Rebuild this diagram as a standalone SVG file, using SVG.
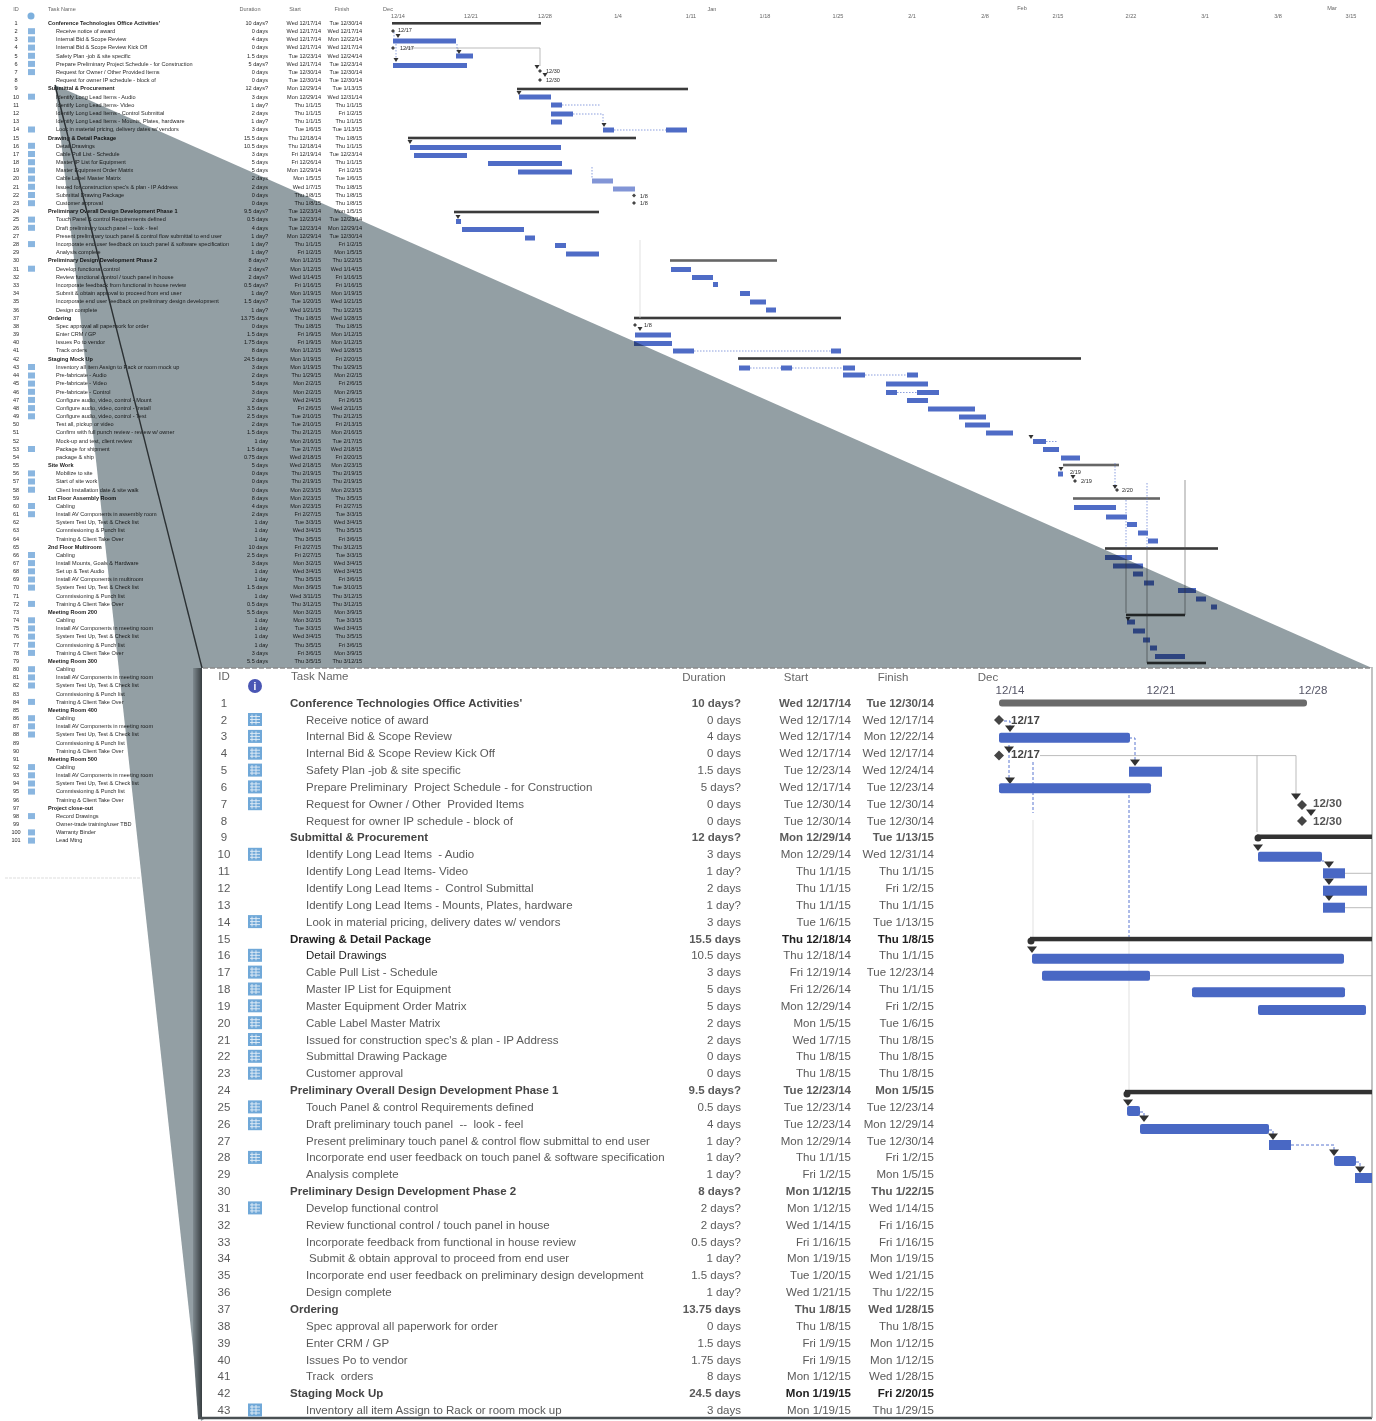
<svg xmlns="http://www.w3.org/2000/svg" xmlns:xlink="http://www.w3.org/1999/xlink" width="1376" height="1421" viewBox="0 0 1376 1421">
<style>
text{font-family:"Liberation Sans",Arial,sans-serif}
.s text{font-size:5.55px;fill:#2a2a2a}
.l text{font-size:11.5px;fill:#5a5a5a}
.bd text{font-weight:700;fill:#222}
.l .bd text{fill:#444}
.r text{text-anchor:end}
.c text{text-anchor:middle}
.h text{fill:#666}
.bs{fill:#4f6cc6;height:5px}
.bl{fill:#4a67c4;height:10px}
.ss{fill:#3a3a3a;height:2.6px}
.sl{fill:#333;height:4.5px}
.tri{fill:#333}
.dash{fill:none;stroke:#5a76d0;stroke-width:.7;stroke-dasharray:1.5 1.5}
.dashl{fill:none;stroke:#5a76d0;stroke-width:1;stroke-dasharray:3 2}
.thin{fill:none;stroke:#aaa;stroke-width:.8}
.faint{fill:none;stroke:#d4d4d4;stroke-width:.7}
.thind{fill:none;stroke:#555;stroke-width:.6}
.wedge{fill:#939fa4;mix-blend-mode:multiply}
</style>
<defs>
<filter id="b1" x="-2%" y="-2%" width="104%" height="104%"><feGaussianBlur stdDeviation="0.35"/></filter>
<filter id="b2" x="-2%" y="-2%" width="104%" height="104%"><feGaussianBlur stdDeviation="0.32"/></filter>
<linearGradient id="sh" x1="0" x2="1" y1="0" y2="0"><stop offset="0" stop-color="#7f8a8f"/><stop offset="1" stop-color="#2f3538"/></linearGradient>
<rect id="si" x="28" y="-3" width="7" height="6" fill="#8ab6e0"/>
<g id="bi"><rect x="248" y="-6.5" width="14" height="13" fill="#6fa8d8"/><path d="M250 -3H260M250 0H260M250 3H260M252 -5V5M256 -5V5" stroke="#e4eef7" stroke-width=".9" fill="none"/></g>
<polygon id="ad" points="-2.5,-2 2.5,-2 0,2" class="tri"/>
<polygon id="al" points="-5,-3.5 5,-3.5 0,3" class="tri"/>
<polygon id="dm" points="0,-2 2,0 0,2 -2,0" fill="#444"/>
<polygon id="dl" points="0,-5 5,0 0,5 -5,0" fill="#444"/>
</defs>

<g id="overview-table" class="s" filter="url(#b1)">
<g class="h c"><text x="16" y="11">ID</text><text x="250" y="11">Duration</text><text x="295" y="11">Start</text><text x="342" y="11">Finish</text></g>
<g class="h"><text x="48" y="11">Task Name</text></g>
<circle cx="31" cy="16" r="3.5" fill="#7db0dd"/>
<g id="ov-ids" class="c" transform="translate(16,0)"><text y="24.8">1</text><text y="33">2</text><text y="41.2">3</text><text y="49.4">4</text><text y="57.6">5</text><text y="65.7">6</text><text y="73.9">7</text><text y="82.1">8</text><text y="90.3">9</text><text y="98.5">10</text><text y="106.7">11</text><text y="114.9">12</text><text y="123.1">13</text><text y="131.3">14</text><text y="139.5">15</text><text y="147.6">16</text><text y="155.8">17</text><text y="164">18</text><text y="172.2">19</text><text y="180.4">20</text><text y="188.6">21</text><text y="196.8">22</text><text y="205">23</text><text y="213.2">24</text><text y="221.4">25</text><text y="229.6">26</text><text y="237.7">27</text><text y="245.9">28</text><text y="254.1">29</text><text y="262.3">30</text><text y="270.5">31</text><text y="278.7">32</text><text y="286.9">33</text><text y="295.1">34</text><text y="303.3">35</text><text y="311.5">36</text><text y="319.6">37</text><text y="327.8">38</text><text y="336">39</text><text y="344.2">40</text><text y="352.4">41</text><text y="360.6">42</text><text y="368.8">43</text><text y="377.3">44</text><text y="385.4">45</text><text y="393.6">46</text><text y="401.7">47</text><text y="409.9">48</text><text y="418.1">49</text><text y="426.2">50</text><text y="434.4">51</text><text y="442.5">52</text><text y="450.7">53</text><text y="458.9">54</text><text y="467">55</text><text y="475.2">56</text><text y="483.3">57</text><text y="491.5">58</text><text y="499.7">59</text><text y="507.8">60</text><text y="516">61</text><text y="524.1">62</text><text y="532.3">63</text><text y="540.5">64</text><text y="548.6">65</text><text y="556.8">66</text><text y="564.9">67</text><text y="573.1">68</text><text y="581.3">69</text><text y="589.4">70</text><text y="597.6">71</text><text y="605.7">72</text><text y="613.9">73</text><text y="622.1">74</text><text y="630.2">75</text><text y="638.4">76</text><text y="646.5">77</text><text y="654.7">78</text><text y="662.9">79</text><text y="671">80</text><text y="679.2">81</text><text y="687.3">82</text><text y="695.5">83</text><text y="703.7">84</text><text y="711.8">85</text><text y="720">86</text><text y="728.1">87</text><text y="736.3">88</text><text y="744.5">89</text><text y="752.6">90</text><text y="760.8">91</text><text y="768.9">92</text><text y="777.1">93</text><text y="785.3">94</text><text y="793.4">95</text><text y="801.6">96</text><text y="809.7">97</text><text y="817.9">98</text><text y="826.1">99</text><text y="834.2">100</text><text y="842.4">101</text></g>
<g id="ov-icons"><use href="#si" y="31.2"/><use href="#si" y="39.4"/><use href="#si" y="47.6"/><use href="#si" y="55.8"/><use href="#si" y="63.9"/><use href="#si" y="72.1"/><use href="#si" y="96.7"/><use href="#si" y="129.5"/><use href="#si" y="145.8"/><use href="#si" y="154"/><use href="#si" y="162.2"/><use href="#si" y="170.4"/><use href="#si" y="178.6"/><use href="#si" y="186.8"/><use href="#si" y="195"/><use href="#si" y="203.2"/><use href="#si" y="219.6"/><use href="#si" y="227.8"/><use href="#si" y="244.1"/><use href="#si" y="268.7"/><use href="#si" y="367"/><use href="#si" y="375.5"/><use href="#si" y="383.6"/><use href="#si" y="391.8"/><use href="#si" y="399.9"/><use href="#si" y="408.1"/><use href="#si" y="416.3"/><use href="#si" y="449"/><use href="#si" y="473.4"/><use href="#si" y="481.5"/><use href="#si" y="489.7"/><use href="#si" y="506"/><use href="#si" y="514.2"/><use href="#si" y="555"/><use href="#si" y="563.1"/><use href="#si" y="571.3"/><use href="#si" y="579.5"/><use href="#si" y="587.6"/><use href="#si" y="603.9"/><use href="#si" y="620.3"/><use href="#si" y="628.4"/><use href="#si" y="636.6"/><use href="#si" y="644.7"/><use href="#si" y="652.9"/><use href="#si" y="669.2"/><use href="#si" y="677.4"/><use href="#si" y="685.5"/><use href="#si" y="701.9"/><use href="#si" y="718.2"/><use href="#si" y="726.3"/><use href="#si" y="734.5"/><use href="#si" y="767.1"/><use href="#si" y="775.3"/><use href="#si" y="783.5"/><use href="#si" y="791.6"/><use href="#si" y="816.1"/><use href="#si" y="832.4"/><use href="#si" y="840.6"/></g>
<g id="ov-summary" class="bd" transform="translate(48,0)"><text y="24.8">Conference Technologies Office Activities'</text><text y="90.3">Submittal &amp; Procurement</text><text y="139.5">Drawing &amp; Detail Package</text><text y="213.2">Preliminary Overall Design Development Phase 1</text><text y="262.3">Preliminary Design Development Phase 2</text><text y="319.6">Ordering</text><text y="360.6">Staging Mock Up</text><text y="467">Site Work</text><text y="499.7">1st Floor Assembly Room</text><text y="548.6">2nd Floor Multiroom</text><text y="613.9">Meeting Room 200</text><text y="662.9">Meeting Room 300</text><text y="711.8">Meeting Room 400</text><text y="760.8">Meeting Room 500</text><text y="809.7">Project close-out</text></g>
<g id="ov-tasks" transform="translate(56,0)"><text y="33">Receive notice of award</text><text y="41.2">Internal Bid &amp; Scope Review</text><text y="49.4">Internal Bid &amp; Scope Review Kick Off</text><text y="57.6">Safety Plan -job &amp; site specific</text><text y="65.7">Prepare Preliminary Project Schedule - for Construction</text><text y="73.9">Request for Owner / Other Provided Items</text><text y="82.1">Request for owner IP schedule - block of</text><text y="98.5">Identify Long Lead Items - Audio</text><text y="106.7">Identify Long Lead Items- Video</text><text y="114.9">Identify Long Lead Items - Control Submittal</text><text y="123.1">Identify Long Lead Items - Mounts, Plates, hardware</text><text y="131.3">Look in material pricing, delivery dates w/ vendors</text><text y="147.6">Detail Drawings</text><text y="155.8">Cable Pull List - Schedule</text><text y="164">Master IP List for Equipment</text><text y="172.2">Master Equipment Order Matrix</text><text y="180.4">Cable Label Master Matrix</text><text y="188.6">Issued for construction spec's &amp; plan - IP Address</text><text y="196.8">Submittal Drawing Package</text><text y="205">Customer approval</text><text y="221.4">Touch Panel &amp; control Requirements defined</text><text y="229.6">Draft preliminary touch panel -- look - feel</text><text y="237.7">Present preliminary touch panel &amp; control flow submittal to end user</text><text y="245.9">Incorporate end user feedback on touch panel &amp; software specification</text><text y="254.1">Analysis complete</text><text y="270.5">Develop functional control</text><text y="278.7">Review functional control / touch panel in house</text><text y="286.9">Incorporate feedback from functional in house review</text><text y="295.1"> Submit &amp; obtain approval to proceed from end user</text><text y="303.3">Incorporate end user feedback on preliminary design development</text><text y="311.5">Design complete</text><text y="327.8">Spec approval all paperwork for order</text><text y="336">Enter CRM / GP</text><text y="344.2">Issues Po to vendor</text><text y="352.4">Track orders</text><text y="368.8">Inventory all item Assign to Rack or room mock up</text><text y="377.3">Pre-fabricate - Audio</text><text y="385.4">Pre-fabricate - Video</text><text y="393.6">Pre-fabricate - Control</text><text y="401.7">Configure audio, video, control - Mount</text><text y="409.9">Configure audio, video, control - Install</text><text y="418.1">Configure audio, video, control - Test</text><text y="426.2">Test all, pickup or video</text><text y="434.4">Confirm with full punch review - review w/ owner</text><text y="442.5">Mock-up and test, client review</text><text y="450.7">Package for shipment</text><text y="458.9">package &amp; ship</text><text y="475.2">Mobilize to site</text><text y="483.3">Start of site work</text><text y="491.5">Client Installation date &amp; site walk</text><text y="507.8">Cabling</text><text y="516">Install AV Components in assembly room</text><text y="524.1">System Test Up, Test &amp; Check list</text><text y="532.3">Commissioning &amp; Punch list</text><text y="540.5">Training &amp; Client Take Over</text><text y="556.8">Cabling</text><text y="564.9">Install Mounts, Goals &amp; Hardware</text><text y="573.1">Set up &amp; Test Audio</text><text y="581.3">Install AV Components in multiroom</text><text y="589.4">System Test Up, Test &amp; Check list</text><text y="597.6">Commissioning &amp; Punch list</text><text y="605.7">Training &amp; Client Take Over</text><text y="622.1">Cabling</text><text y="630.2">Install AV Components in meeting room</text><text y="638.4">System Test Up, Test &amp; Check list</text><text y="646.5">Commissioning &amp; Punch list</text><text y="654.7">Training &amp; Client Take Over</text><text y="671">Cabling</text><text y="679.2">Install AV Components in meeting room</text><text y="687.3">System Test Up, Test &amp; Check list</text><text y="695.5">Commissioning &amp; Punch list</text><text y="703.7">Training &amp; Client Take Over</text><text y="720">Cabling</text><text y="728.1">Install AV Components in meeting room</text><text y="736.3">System Test Up, Test &amp; Check list</text><text y="744.5">Commissioning &amp; Punch list</text><text y="752.6">Training &amp; Client Take Over</text><text y="768.9">Cabling</text><text y="777.1">Install AV Components in meeting room</text><text y="785.3">System Test Up, Test &amp; Check list</text><text y="793.4">Commissioning &amp; Punch list</text><text y="801.6">Training &amp; Client Take Over</text><text y="817.9">Record Drawings</text><text y="826.1">Owner-trade training/user TBD</text><text y="834.2">Warranty Binder</text><text y="842.4">Lead Mtng</text></g>
<g id="ov-duration" class="r" transform="translate(268,0)"><text y="24.8">10 days?</text><text y="33">0 days</text><text y="41.2">4 days</text><text y="49.4">0 days</text><text y="57.6">1.5 days</text><text y="65.7">5 days?</text><text y="73.9">0 days</text><text y="82.1">0 days</text><text y="90.3">12 days?</text><text y="98.5">3 days</text><text y="106.7">1 day?</text><text y="114.9">2 days</text><text y="123.1">1 day?</text><text y="131.3">3 days</text><text y="139.5">15.5 days</text><text y="147.6">10.5 days</text><text y="155.8">3 days</text><text y="164">5 days</text><text y="172.2">5 days</text><text y="180.4">2 days</text><text y="188.6">2 days</text><text y="196.8">0 days</text><text y="205">0 days</text><text y="213.2">9.5 days?</text><text y="221.4">0.5 days</text><text y="229.6">4 days</text><text y="237.7">1 day?</text><text y="245.9">1 day?</text><text y="254.1">1 day?</text><text y="262.3">8 days?</text><text y="270.5">2 days?</text><text y="278.7">2 days?</text><text y="286.9">0.5 days?</text><text y="295.1">1 day?</text><text y="303.3">1.5 days?</text><text y="311.5">1 day?</text><text y="319.6">13.75 days</text><text y="327.8">0 days</text><text y="336">1.5 days</text><text y="344.2">1.75 days</text><text y="352.4">8 days</text><text y="360.6">24.5 days</text><text y="368.8">3 days</text><text y="377.3">2 days</text><text y="385.4">5 days</text><text y="393.6">3 days</text><text y="401.7">2 days</text><text y="409.9">3.5 days</text><text y="418.1">2.5 days</text><text y="426.2">2 days</text><text y="434.4">1.5 days</text><text y="442.5">1 day</text><text y="450.7">1.5 days</text><text y="458.9">0.75 days</text><text y="467">5 days</text><text y="475.2">0 days</text><text y="483.3">0 days</text><text y="491.5">0 days</text><text y="499.7">8 days</text><text y="507.8">4 days</text><text y="516">2 days</text><text y="524.1">1 day</text><text y="532.3">1 day</text><text y="540.5">1 day</text><text y="548.6">10 days</text><text y="556.8">2.5 days</text><text y="564.9">3 days</text><text y="573.1">1 day</text><text y="581.3">1 day</text><text y="589.4">1.5 days</text><text y="597.6">1 day</text><text y="605.7">0.5 days</text><text y="613.9">5.5 days</text><text y="622.1">1 day</text><text y="630.2">1 day</text><text y="638.4">1 day</text><text y="646.5">1 day</text><text y="654.7">3 days</text><text y="662.9">5.5 days</text></g>
<g id="ov-start" class="r" transform="translate(321,0)"><text y="24.8">Wed 12/17/14</text><text y="33">Wed 12/17/14</text><text y="41.2">Wed 12/17/14</text><text y="49.4">Wed 12/17/14</text><text y="57.6">Tue 12/23/14</text><text y="65.7">Wed 12/17/14</text><text y="73.9">Tue 12/30/14</text><text y="82.1">Tue 12/30/14</text><text y="90.3">Mon 12/29/14</text><text y="98.5">Mon 12/29/14</text><text y="106.7">Thu 1/1/15</text><text y="114.9">Thu 1/1/15</text><text y="123.1">Thu 1/1/15</text><text y="131.3">Tue 1/6/15</text><text y="139.5">Thu 12/18/14</text><text y="147.6">Thu 12/18/14</text><text y="155.8">Fri 12/19/14</text><text y="164">Fri 12/26/14</text><text y="172.2">Mon 12/29/14</text><text y="180.4">Mon 1/5/15</text><text y="188.6">Wed 1/7/15</text><text y="196.8">Thu 1/8/15</text><text y="205">Thu 1/8/15</text><text y="213.2">Tue 12/23/14</text><text y="221.4">Tue 12/23/14</text><text y="229.6">Tue 12/23/14</text><text y="237.7">Mon 12/29/14</text><text y="245.9">Thu 1/1/15</text><text y="254.1">Fri 1/2/15</text><text y="262.3">Mon 1/12/15</text><text y="270.5">Mon 1/12/15</text><text y="278.7">Wed 1/14/15</text><text y="286.9">Fri 1/16/15</text><text y="295.1">Mon 1/19/15</text><text y="303.3">Tue 1/20/15</text><text y="311.5">Wed 1/21/15</text><text y="319.6">Thu 1/8/15</text><text y="327.8">Thu 1/8/15</text><text y="336">Fri 1/9/15</text><text y="344.2">Fri 1/9/15</text><text y="352.4">Mon 1/12/15</text><text y="360.6">Mon 1/19/15</text><text y="368.8">Mon 1/19/15</text><text y="377.3">Thu 1/29/15</text><text y="385.4">Mon 2/2/15</text><text y="393.6">Mon 2/2/15</text><text y="401.7">Wed 2/4/15</text><text y="409.9">Fri 2/6/15</text><text y="418.1">Tue 2/10/15</text><text y="426.2">Tue 2/10/15</text><text y="434.4">Thu 2/12/15</text><text y="442.5">Mon 2/16/15</text><text y="450.7">Tue 2/17/15</text><text y="458.9">Wed 2/18/15</text><text y="467">Wed 2/18/15</text><text y="475.2">Thu 2/19/15</text><text y="483.3">Thu 2/19/15</text><text y="491.5">Mon 2/23/15</text><text y="499.7">Mon 2/23/15</text><text y="507.8">Mon 2/23/15</text><text y="516">Fri 2/27/15</text><text y="524.1">Tue 3/3/15</text><text y="532.3">Wed 3/4/15</text><text y="540.5">Thu 3/5/15</text><text y="548.6">Fri 2/27/15</text><text y="556.8">Fri 2/27/15</text><text y="564.9">Mon 3/2/15</text><text y="573.1">Wed 3/4/15</text><text y="581.3">Thu 3/5/15</text><text y="589.4">Mon 3/9/15</text><text y="597.6">Wed 3/11/15</text><text y="605.7">Thu 3/12/15</text><text y="613.9">Mon 3/2/15</text><text y="622.1">Mon 3/2/15</text><text y="630.2">Tue 3/3/15</text><text y="638.4">Wed 3/4/15</text><text y="646.5">Thu 3/5/15</text><text y="654.7">Fri 3/6/15</text><text y="662.9">Thu 3/5/15</text></g>
<g id="ov-finish" class="r" transform="translate(362,0)"><text y="24.8">Tue 12/30/14</text><text y="33">Wed 12/17/14</text><text y="41.2">Mon 12/22/14</text><text y="49.4">Wed 12/17/14</text><text y="57.6">Wed 12/24/14</text><text y="65.7">Tue 12/23/14</text><text y="73.9">Tue 12/30/14</text><text y="82.1">Tue 12/30/14</text><text y="90.3">Tue 1/13/15</text><text y="98.5">Wed 12/31/14</text><text y="106.7">Thu 1/1/15</text><text y="114.9">Fri 1/2/15</text><text y="123.1">Thu 1/1/15</text><text y="131.3">Tue 1/13/15</text><text y="139.5">Thu 1/8/15</text><text y="147.6">Thu 1/1/15</text><text y="155.8">Tue 12/23/14</text><text y="164">Thu 1/1/15</text><text y="172.2">Fri 1/2/15</text><text y="180.4">Tue 1/6/15</text><text y="188.6">Thu 1/8/15</text><text y="196.8">Thu 1/8/15</text><text y="205">Thu 1/8/15</text><text y="213.2">Mon 1/5/15</text><text y="221.4">Tue 12/23/14</text><text y="229.6">Mon 12/29/14</text><text y="237.7">Tue 12/30/14</text><text y="245.9">Fri 1/2/15</text><text y="254.1">Mon 1/5/15</text><text y="262.3">Thu 1/22/15</text><text y="270.5">Wed 1/14/15</text><text y="278.7">Fri 1/16/15</text><text y="286.9">Fri 1/16/15</text><text y="295.1">Mon 1/19/15</text><text y="303.3">Wed 1/21/15</text><text y="311.5">Thu 1/22/15</text><text y="319.6">Wed 1/28/15</text><text y="327.8">Thu 1/8/15</text><text y="336">Mon 1/12/15</text><text y="344.2">Mon 1/12/15</text><text y="352.4">Wed 1/28/15</text><text y="360.6">Fri 2/20/15</text><text y="368.8">Thu 1/29/15</text><text y="377.3">Mon 2/2/15</text><text y="385.4">Fri 2/6/15</text><text y="393.6">Mon 2/9/15</text><text y="401.7">Fri 2/6/15</text><text y="409.9">Wed 2/11/15</text><text y="418.1">Thu 2/12/15</text><text y="426.2">Fri 2/13/15</text><text y="434.4">Mon 2/16/15</text><text y="442.5">Tue 2/17/15</text><text y="450.7">Wed 2/18/15</text><text y="458.9">Fri 2/20/15</text><text y="467">Mon 2/23/15</text><text y="475.2">Thu 2/19/15</text><text y="483.3">Thu 2/19/15</text><text y="491.5">Mon 2/23/15</text><text y="499.7">Thu 3/5/15</text><text y="507.8">Fri 2/27/15</text><text y="516">Tue 3/3/15</text><text y="524.1">Wed 3/4/15</text><text y="532.3">Thu 3/5/15</text><text y="540.5">Fri 3/6/15</text><text y="548.6">Thu 3/12/15</text><text y="556.8">Tue 3/3/15</text><text y="564.9">Wed 3/4/15</text><text y="573.1">Wed 3/4/15</text><text y="581.3">Fri 3/6/15</text><text y="589.4">Tue 3/10/15</text><text y="597.6">Thu 3/12/15</text><text y="605.7">Thu 3/12/15</text><text y="613.9">Mon 3/9/15</text><text y="622.1">Tue 3/3/15</text><text y="630.2">Wed 3/4/15</text><text y="638.4">Thu 3/5/15</text><text y="646.5">Fri 3/6/15</text><text y="654.7">Mon 3/9/15</text><text y="662.9">Thu 3/12/15</text></g>
</g>

<g id="overview-gantt" filter="url(#b1)">
<g class="s h c"><text x="388" y="11">Dec</text><text x="712" y="11">Jan</text><text x="1022" y="10">Feb</text><text x="1332" y="10">Mar</text>
<text x="398" y="18">12/14</text><text x="471" y="18">12/21</text><text x="545" y="18">12/28</text><text x="618" y="18">1/4</text><text x="691" y="18">1/11</text><text x="765" y="18">1/18</text><text x="838" y="18">1/25</text><text x="912" y="18">2/1</text><text x="985" y="18">2/8</text><text x="1058" y="18">2/15</text><text x="1131" y="18">2/22</text><text x="1205" y="18">3/1</text><text x="1278" y="18">3/8</text><text x="1351" y="18">3/15</text></g>
<g id="ov-summaries"><rect class="ss" x="392" y="22" width="149"/><rect class="ss" x="517" y="87.7" width="171"/><rect class="ss" x="408" y="136.7" width="228"/><rect class="ss" x="454" y="210.7" width="145"/><rect class="ss" x="670" y="259.2" width="107" style="fill:#666"/><rect class="ss" x="634" y="316.7" width="207"/><rect class="ss" x="738" y="357.2" width="343"/><rect class="ss" x="1063" y="463.7" width="56" style="fill:#666"/><rect class="ss" x="1073" y="497.2" width="87" style="fill:#666"/><rect class="ss" x="1105" y="547.2" width="113"/><rect class="ss" x="1126" y="613.7" width="59"/><rect class="ss" x="1147" y="661.7" width="59"/></g>
<g id="ov-bars"><rect class="bs" x="393" y="38.5" width="63"/><rect class="bs" x="456" y="53.5" width="17"/><rect class="bs" x="393" y="63" width="74"/><rect class="bs" x="519" y="94.5" width="32"/><rect class="bs" x="551" y="102.5" width="11"/><rect class="bs" x="551" y="111.5" width="22"/><rect class="bs" x="551" y="119.5" width="11"/><rect class="bs" x="603" y="127.5" width="11"/><rect class="bs" x="666" y="127.5" width="21"/><rect class="bs" x="410" y="145" width="151"/><rect class="bs" x="414" y="153" width="53"/><rect class="bs" x="488" y="161" width="74"/><rect class="bs" x="518" y="169.5" width="54"/><rect class="bs" x="592" y="178.5" width="21" style="fill:#8295d6"/><rect class="bs" x="613" y="186.5" width="22" style="fill:#8295d6"/><rect class="bs" x="456" y="219" width="5"/><rect class="bs" x="462" y="227" width="62"/><rect class="bs" x="525" y="235.5" width="10"/><rect class="bs" x="555" y="243" width="11"/><rect class="bs" x="566" y="251.5" width="33"/><rect class="bs" x="671" y="267" width="20"/><rect class="bs" x="692" y="275" width="21"/><rect class="bs" x="713" y="282" width="5"/><rect class="bs" x="740" y="291" width="10"/><rect class="bs" x="750" y="299.5" width="16"/><rect class="bs" x="766" y="307.5" width="10"/><rect class="bs" x="635" y="332.5" width="36"/><rect class="bs" x="634" y="341" width="38"/><rect class="bs" x="673" y="348.5" width="21"/><rect class="bs" x="831" y="348.5" width="10"/><rect class="bs" x="739" y="365.5" width="11"/><rect class="bs" x="781" y="365.5" width="11"/><rect class="bs" x="843" y="365.5" width="12"/><rect class="bs" x="843" y="372.5" width="22"/><rect class="bs" x="907" y="372.5" width="11"/><rect class="bs" x="886" y="381.5" width="42"/><rect class="bs" x="886" y="390" width="11"/><rect class="bs" x="917" y="390" width="22"/><rect class="bs" x="907" y="398" width="21"/><rect class="bs" x="928" y="406.5" width="47"/><rect class="bs" x="959" y="414.5" width="27"/><rect class="bs" x="965" y="422.5" width="25"/><rect class="bs" x="986" y="430.5" width="27"/><rect class="bs" x="1033" y="439" width="13"/><rect class="bs" x="1043" y="447" width="16"/><rect class="bs" x="1061" y="455.5" width="19"/><rect class="bs" x="1058" y="471.5" width="5"/><rect class="bs" x="1074" y="505" width="42"/><rect class="bs" x="1106" y="514.5" width="21"/><rect class="bs" x="1127" y="522" width="10"/><rect class="bs" x="1138" y="530.5" width="10"/><rect class="bs" x="1148" y="538.5" width="10"/><rect class="bs" x="1105" y="555" width="27"/><rect class="bs" x="1113" y="563.5" width="30"/><rect class="bs" x="1133" y="571.5" width="10"/><rect class="bs" x="1144" y="580.5" width="10"/><rect class="bs" x="1178" y="588" width="18"/><rect class="bs" x="1196" y="596.5" width="10"/><rect class="bs" x="1211" y="604.5" width="6"/><rect class="bs" x="1127" y="619.5" width="8"/><rect class="bs" x="1133" y="628.5" width="12"/><rect class="bs" x="1143" y="637.5" width="7"/><rect class="bs" x="1150" y="645.5" width="7"/><rect class="bs" x="1155" y="654" width="30"/></g>
<g id="ov-links"><path class="thin" d="M405 48H540V66M458 48V52"/><path class="dash" d="M394 32V38M457 44V52M396 44V62M562 105H600M573 114H603V126M614 130H666M592 167V178M694 351H831M750 368H781M792 368H843M865 375H907M897 392.5H917M1046 441.5H1058M1115 463V488M1126 500V548M1147 483V548"/><path class="thind" d="M1126 548V613M1147 548V663M1185 480V615"/><path class="faint" d="M640 240V318"/>
<use href="#ad" x="398" y="36"/><use href="#ad" x="459" y="52"/><use href="#ad" x="396" y="60"/><use href="#ad" x="537" y="67"/><use href="#ad" x="545" y="75"/><use href="#ad" x="519" y="93"/><use href="#ad" x="604" y="125"/><use href="#ad" x="410" y="142"/><use href="#ad" x="458" y="217"/><use href="#ad" x="1031" y="437"/><use href="#ad" x="1061" y="469"/><use href="#ad" x="1073" y="477"/><use href="#ad" x="1115" y="487"/><use href="#ad" x="1128" y="619"/><use href="#ad" x="640" y="329"/>
<use href="#dm" x="393" y="31"/><use href="#dm" x="393" y="48"/><use href="#dm" x="540" y="71"/><use href="#dm" x="540" y="80"/><use href="#dm" x="634" y="195.5"/><use href="#dm" x="634" y="203"/><use href="#dm" x="635" y="325"/><use href="#dm" x="1075" y="481"/><use href="#dm" x="1117" y="490"/></g>
<g class="s"><text x="398" y="32">12/17</text><text x="400" y="50">12/17</text><text x="546" y="73">12/30</text><text x="546" y="81.5">12/30</text><text x="640" y="197.5">1/8</text><text x="640" y="205">1/8</text><text x="644" y="327">1/8</text><text x="1070" y="474">2/19</text><text x="1081" y="483">2/19</text><text x="1122" y="492">2/20</text></g>
</g>

<path d="M5 878H140" stroke="#ddd" stroke-width="1" stroke-dasharray="3 1" fill="none"/>

<g id="zoom-wedge">
<polygon class="wedge" points="55,85 1372,668 201,1421"/>
<path d="M55 85L202 668" stroke="#2b3033" stroke-width="1.4" fill="none"/>
<polygon points="193,668 203,668 203,1418 198,1418 193,1346" fill="url(#sh)"/>
</g>

<g id="inset">
<rect x="202" y="668" width="1170" height="749" fill="#fff"/>
<path d="M198 1418H1372" stroke="#4a5053" stroke-width="2.5" fill="none"/>
<path d="M1372 667V1418" stroke="#9a9a9a" stroke-width="1.2" fill="none"/>
<path d="M203 668H1372" stroke="#8b8b8b" stroke-width="1.5" stroke-dasharray="5 2" fill="none"/>
<g id="inset-table" class="l" filter="url(#b2)">
<g class="h c"><text x="224" y="680">ID</text><text x="704" y="681">Duration</text><text x="796" y="681">Start</text><text x="893" y="681">Finish</text><text x="988" y="681">Dec</text></g>
<g class="h"><text x="291" y="680">Task Name</text></g>
<circle cx="255" cy="686" r="7" fill="#4a56b4"/><text x="255" y="690" text-anchor="middle" style="fill:#fff;font-weight:700;font-size:10px">i</text>
<g id="in-ids" class="c" transform="translate(224,0)"><text y="706.7">1</text><text y="723.5">2</text><text y="740.4">3</text><text y="757.2">4</text><text y="774.1">5</text><text y="790.9">6</text><text y="807.7">7</text><text y="824.6">8</text><text y="841.4">9</text><text y="858.3">10</text><text y="875.1">11</text><text y="891.9">12</text><text y="908.8">13</text><text y="925.6">14</text><text y="942.5">15</text><text y="959.3">16</text><text y="976.1">17</text><text y="993">18</text><text y="1009.8">19</text><text y="1026.7">20</text><text y="1043.5">21</text><text y="1060.3">22</text><text y="1077.2">23</text><text y="1094">24</text><text y="1110.9">25</text><text y="1127.7">26</text><text y="1144.5">27</text><text y="1161.4">28</text><text y="1178.2">29</text><text y="1195.1">30</text><text y="1211.9">31</text><text y="1228.7">32</text><text y="1245.6">33</text><text y="1262.4">34</text><text y="1279.3">35</text><text y="1296.1">36</text><text y="1312.9">37</text><text y="1329.8">38</text><text y="1346.6">39</text><text y="1363.5">40</text><text y="1380.3">41</text><text y="1397.1">42</text><text y="1414">43</text></g>
<g id="in-icons"><use href="#bi" y="719.5"/><use href="#bi" y="736.4"/><use href="#bi" y="753.2"/><use href="#bi" y="770.1"/><use href="#bi" y="786.9"/><use href="#bi" y="803.7"/><use href="#bi" y="854.3"/><use href="#bi" y="921.6"/><use href="#bi" y="955.3"/><use href="#bi" y="972.1"/><use href="#bi" y="989"/><use href="#bi" y="1005.8"/><use href="#bi" y="1022.7"/><use href="#bi" y="1039.5"/><use href="#bi" y="1056.3"/><use href="#bi" y="1073.2"/><use href="#bi" y="1106.9"/><use href="#bi" y="1123.7"/><use href="#bi" y="1157.4"/><use href="#bi" y="1207.9"/><use href="#bi" y="1410"/></g>
<g id="in-summary" class="bd" transform="translate(290,0)"><text y="706.7">Conference Technologies Office Activities'</text><text y="841.4">Submittal &amp; Procurement</text><text y="942.5" style="fill:#222">Drawing &amp; Detail Package</text><text y="1094">Preliminary Overall Design Development Phase 1</text><text y="1195.1">Preliminary Design Development Phase 2</text><text y="1312.9">Ordering</text><text y="1397.1">Staging Mock Up</text></g>
<g id="in-tasks" transform="translate(306,0)"><text y="723.5">Receive notice of award</text><text y="740.4">Internal Bid &amp; Scope Review</text><text y="757.2">Internal Bid &amp; Scope Review Kick Off</text><text y="774.1">Safety Plan -job &amp; site specific</text><text y="790.9" xml:space="preserve">Prepare Preliminary  Project Schedule - for Construction</text><text y="807.7" xml:space="preserve">Request for Owner / Other  Provided Items</text><text y="824.6">Request for owner IP schedule - block of</text><text y="858.3" xml:space="preserve">Identify Long Lead Items  - Audio</text><text y="875.1">Identify Long Lead Items- Video</text><text y="891.9" xml:space="preserve">Identify Long Lead Items -  Control Submittal</text><text y="908.8">Identify Long Lead Items - Mounts, Plates, hardware</text><text y="925.6">Look in material pricing, delivery dates w/ vendors</text><text y="959.3" style="fill:#222">Detail Drawings</text><text y="976.1">Cable Pull List - Schedule</text><text y="993">Master IP List for Equipment</text><text y="1009.8">Master Equipment Order Matrix</text><text y="1026.7">Cable Label Master Matrix</text><text y="1043.5">Issued for construction spec's &amp; plan - IP Address</text><text y="1060.3">Submittal Drawing Package</text><text y="1077.2">Customer approval</text><text y="1110.9">Touch Panel &amp; control Requirements defined</text><text y="1127.7" xml:space="preserve">Draft preliminary touch panel  --  look - feel</text><text y="1144.5">Present preliminary touch panel &amp; control flow submittal to end user</text><text y="1161.4">Incorporate end user feedback on touch panel &amp; software specification</text><text y="1178.2">Analysis complete</text><text y="1211.9">Develop functional control</text><text y="1228.7">Review functional control / touch panel in house</text><text y="1245.6">Incorporate feedback from functional in house review</text><text x="3" y="1262.4">Submit &amp; obtain approval to proceed from end user</text><text y="1279.3">Incorporate end user feedback on preliminary design development</text><text y="1296.1">Design complete</text><text y="1329.8">Spec approval all paperwork for order</text><text y="1346.6">Enter CRM / GP</text><text y="1363.5">Issues Po to vendor</text><text y="1380.3" xml:space="preserve">Track  orders</text><text y="1414">Inventory all item Assign to Rack or room mock up</text></g>
<g id="in-duration" class="r" transform="translate(741,0)"><text y="706.7" style="font-weight:700">10 days?</text><text y="723.5">0 days</text><text y="740.4">4 days</text><text y="757.2">0 days</text><text y="774.1">1.5 days</text><text y="790.9">5 days?</text><text y="807.7">0 days</text><text y="824.6">0 days</text><text y="841.4" style="font-weight:700">12 days?</text><text y="858.3">3 days</text><text y="875.1">1 day?</text><text y="891.9">2 days</text><text y="908.8">1 day?</text><text y="925.6">3 days</text><text y="942.5" style="font-weight:700">15.5 days</text><text y="959.3">10.5 days</text><text y="976.1">3 days</text><text y="993">5 days</text><text y="1009.8">5 days</text><text y="1026.7">2 days</text><text y="1043.5">2 days</text><text y="1060.3">0 days</text><text y="1077.2">0 days</text><text y="1094" style="font-weight:700">9.5 days?</text><text y="1110.9">0.5 days</text><text y="1127.7">4 days</text><text y="1144.5">1 day?</text><text y="1161.4">1 day?</text><text y="1178.2">1 day?</text><text y="1195.1" style="font-weight:700">8 days?</text><text y="1211.9">2 days?</text><text y="1228.7">2 days?</text><text y="1245.6">0.5 days?</text><text y="1262.4">1 day?</text><text y="1279.3">1.5 days?</text><text y="1296.1">1 day?</text><text y="1312.9" style="font-weight:700">13.75 days</text><text y="1329.8">0 days</text><text y="1346.6">1.5 days</text><text y="1363.5">1.75 days</text><text y="1380.3">8 days</text><text y="1397.1" style="font-weight:700">24.5 days</text><text y="1414">3 days</text></g>
<g id="in-start" class="r" transform="translate(851,0)"><text y="706.7" style="font-weight:700">Wed 12/17/14</text><text y="723.5">Wed 12/17/14</text><text y="740.4">Wed 12/17/14</text><text y="757.2">Wed 12/17/14</text><text y="774.1">Tue 12/23/14</text><text y="790.9">Wed 12/17/14</text><text y="807.7">Tue 12/30/14</text><text y="824.6">Tue 12/30/14</text><text y="841.4" style="font-weight:700">Mon 12/29/14</text><text y="858.3">Mon 12/29/14</text><text y="875.1">Thu 1/1/15</text><text y="891.9">Thu 1/1/15</text><text y="908.8">Thu 1/1/15</text><text y="925.6">Tue 1/6/15</text><text y="942.5" style="font-weight:700;fill:#222">Thu 12/18/14</text><text y="959.3">Thu 12/18/14</text><text y="976.1">Fri 12/19/14</text><text y="993">Fri 12/26/14</text><text y="1009.8">Mon 12/29/14</text><text y="1026.7">Mon 1/5/15</text><text y="1043.5">Wed 1/7/15</text><text y="1060.3">Thu 1/8/15</text><text y="1077.2">Thu 1/8/15</text><text y="1094" style="font-weight:700">Tue 12/23/14</text><text y="1110.9">Tue 12/23/14</text><text y="1127.7">Tue 12/23/14</text><text y="1144.5">Mon 12/29/14</text><text y="1161.4">Thu 1/1/15</text><text y="1178.2">Fri 1/2/15</text><text y="1195.1" style="font-weight:700">Mon 1/12/15</text><text y="1211.9">Mon 1/12/15</text><text y="1228.7">Wed 1/14/15</text><text y="1245.6">Fri 1/16/15</text><text y="1262.4">Mon 1/19/15</text><text y="1279.3">Tue 1/20/15</text><text y="1296.1">Wed 1/21/15</text><text y="1312.9" style="font-weight:700">Thu 1/8/15</text><text y="1329.8">Thu 1/8/15</text><text y="1346.6">Fri 1/9/15</text><text y="1363.5">Fri 1/9/15</text><text y="1380.3">Mon 1/12/15</text><text y="1397.1" style="font-weight:700;fill:#222">Mon 1/19/15</text><text y="1414">Mon 1/19/15</text></g>
<g id="in-finish" class="r" transform="translate(934,0)"><text y="706.7" style="font-weight:700">Tue 12/30/14</text><text y="723.5">Wed 12/17/14</text><text y="740.4">Mon 12/22/14</text><text y="757.2">Wed 12/17/14</text><text y="774.1">Wed 12/24/14</text><text y="790.9">Tue 12/23/14</text><text y="807.7">Tue 12/30/14</text><text y="824.6">Tue 12/30/14</text><text y="841.4" style="font-weight:700">Tue 1/13/15</text><text y="858.3">Wed 12/31/14</text><text y="875.1">Thu 1/1/15</text><text y="891.9">Fri 1/2/15</text><text y="908.8">Thu 1/1/15</text><text y="925.6">Tue 1/13/15</text><text y="942.5" style="font-weight:700;fill:#222">Thu 1/8/15</text><text y="959.3">Thu 1/1/15</text><text y="976.1">Tue 12/23/14</text><text y="993">Thu 1/1/15</text><text y="1009.8">Fri 1/2/15</text><text y="1026.7">Tue 1/6/15</text><text y="1043.5">Thu 1/8/15</text><text y="1060.3">Thu 1/8/15</text><text y="1077.2">Thu 1/8/15</text><text y="1094" style="font-weight:700">Mon 1/5/15</text><text y="1110.9">Tue 12/23/14</text><text y="1127.7">Mon 12/29/14</text><text y="1144.5">Tue 12/30/14</text><text y="1161.4">Fri 1/2/15</text><text y="1178.2">Mon 1/5/15</text><text y="1195.1" style="font-weight:700">Thu 1/22/15</text><text y="1211.9">Wed 1/14/15</text><text y="1228.7">Fri 1/16/15</text><text y="1245.6">Fri 1/16/15</text><text y="1262.4">Mon 1/19/15</text><text y="1279.3">Wed 1/21/15</text><text y="1296.1">Thu 1/22/15</text><text y="1312.9" style="font-weight:700">Wed 1/28/15</text><text y="1329.8">Thu 1/8/15</text><text y="1346.6">Mon 1/12/15</text><text y="1363.5">Mon 1/12/15</text><text y="1380.3">Wed 1/28/15</text><text y="1397.1" style="font-weight:700;fill:#222">Fri 2/20/15</text><text y="1414">Thu 1/29/15</text></g>
</g>
<g id="inset-gantt" filter="url(#b2)">
<g class="l c"><text x="1010" y="694" style="fill:#556">12/14</text><text x="1161" y="694" style="fill:#556">12/21</text><text x="1313" y="694" style="fill:#556">12/28</text></g>
<g id="in-links"><path class="thin" d="M1040 755.6H1296V794M1257 755.6V832"/><path class="thin" d="M1150 975.7H1372M1345 873.3H1372M1345 907.7H1372"/><path class="faint" d="M1129 938V1090M1033 820V938"/><path class="dashl" d="M1004 721H1010V726M1129 738H1135V760M1009 745V778M1033 762V813M1129 795V938M1291 1145H1334V1150M1140 1112H1144V1116M1269 1130H1273V1134M1356 1162H1360V1167M1323 860V862"/>
<use href="#al" x="1010" y="729"/><use href="#al" x="1009" y="750"/><use href="#al" x="1135" y="763"/><use href="#al" x="1010" y="781"/><use href="#al" x="1296" y="797"/><use href="#al" x="1311" y="813"/><use href="#al" x="1258" y="848"/><use href="#al" x="1329" y="865"/><use href="#al" x="1329" y="882"/><use href="#al" x="1329" y="898"/><use href="#al" x="1032" y="950"/><use href="#al" x="1128" y="1103"/><use href="#al" x="1144" y="1119"/><use href="#al" x="1273" y="1137"/><use href="#al" x="1334" y="1153"/><use href="#al" x="1360" y="1170"/></g>
<g id="in-bars"><rect x="999" y="699.5" width="308" height="7" rx="3" fill="#6b6b6b"/><rect class="bl" x="999" y="732.7" width="131" rx="2"/><rect class="bl" x="1129" y="766.7" width="33"/><rect class="bl" x="999" y="783.3" width="152" rx="2"/><rect class="sl" x="1257" y="834.5" width="115"/><rect class="bl" x="1258" y="851.7" width="64" rx="2"/><rect class="bl" x="1323" y="868.3" width="22"/><rect class="bl" x="1323" y="885.7" width="44"/><rect class="bl" x="1323" y="902.7" width="22"/><rect class="sl" x="1030" y="936.8" width="342"/><rect class="bl" x="1032" y="953.7" width="312" rx="2"/><rect class="bl" x="1042" y="970.7" width="108" rx="2"/><rect class="bl" x="1192" y="987.3" width="153" rx="2"/><rect class="bl" x="1258" y="1005" width="108" rx="2"/><rect class="sl" x="1125" y="1089.8" width="247"/><rect class="bl" x="1127" y="1106" width="13" rx="2"/><rect class="bl" x="1140" y="1124" width="129" rx="2"/><rect class="bl" x="1269" y="1140" width="22"/><rect class="bl" x="1334" y="1156" width="22" rx="2"/><rect class="bl" x="1355" y="1173" width="17"/></g>
<g id="in-diamonds"><use href="#dl" x="999" y="720"/><use href="#dl" x="999" y="755.5"/><use href="#dl" x="1302" y="805"/><use href="#dl" x="1302" y="821"/><circle cx="1258" cy="838" r="3.5" fill="#333"/><circle cx="1031" cy="941" r="3.5" fill="#333"/><circle cx="1127" cy="1094" r="3.5" fill="#333"/></g>
<g class="l"><text x="1011" y="723.5" style="font-weight:700;fill:#444">12/17</text><text x="1011" y="758" style="font-weight:700;fill:#444">12/17</text><text x="1313" y="807" style="font-weight:700;fill:#555">12/30</text><text x="1313" y="824.6" style="font-weight:700;fill:#555">12/30</text></g>
</g>
</g>
</svg>
